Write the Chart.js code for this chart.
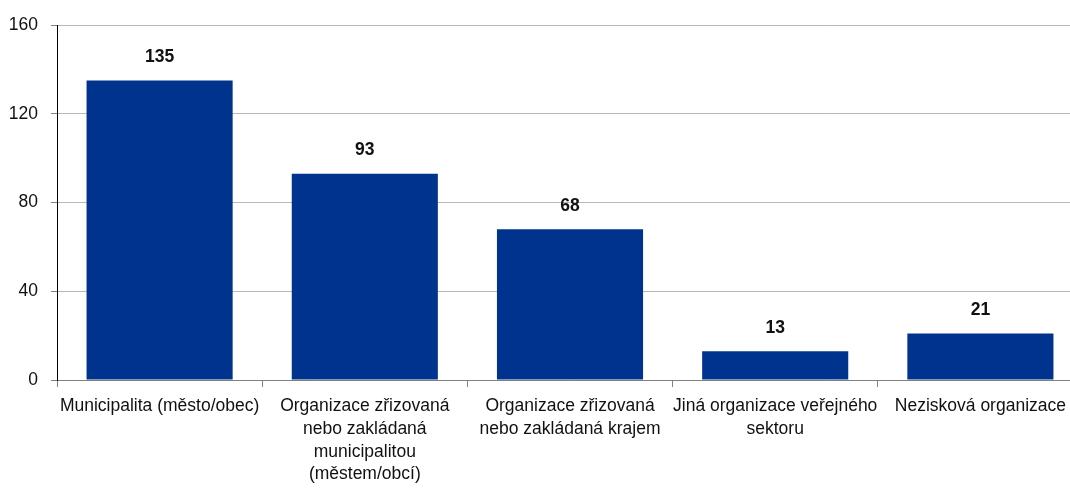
<!DOCTYPE html>
<html>
<head>
<meta charset="utf-8">
<script src="https://cdn.jsdelivr.net/npm/chart.js@4"></script>
<style>
    html, body { margin: 0; padding: 0; background: #fff; overflow: hidden; }
    #wrap { width: 1083px; height: 489px; }
</style>
</head>
<body>
<div id="wrap"><canvas id="barChart"></canvas></div>
<script>
// Categories and values
const categories = [
    ["Municipalita (město/obec)"],
    ["Organizace zřizovaná", "nebo zakládaná", "municipalitou", "(městem/obcí)"],
    ["Organizace zřizovaná", "nebo zakládaná krajem"],
    ["Jiná organizace veřejného", "sektoru"],
    ["Nezisková organizace"],
];
const counts = [135, 93, 68, 13, 21];
const yTicks = [0, 40, 80, 120, 160];

const FONT = "'Liberation Sans', Arial, sans-serif";

// Draw the numbers above each bar
const valueLabels = {
    id: "valueLabels",
    afterDatasetsDraw(chart) {
        const ctx = chart.ctx;
        const meta = chart.getDatasetMeta(0);
        ctx.save();
        ctx.font = "bold 17.5px " + FONT;
        ctx.fillStyle = "#111";
        ctx.textAlign = "center";
        ctx.textBaseline = "middle";
        meta.data.forEach((bar, i) => {
            ctx.fillText(String(counts[i]), bar.x, bar.y - 23);
        });
        ctx.restore();
    },
};

const ctx = document.getElementById("barChart").getContext("2d");
new Chart(ctx, {
    type: "bar",
    data: {
        labels: categories,
        datasets: [
            {
                data: counts,
                backgroundColor: "#00338D",
                categoryPercentage: 1,
                barPercentage: 0.712,
            },
        ],
    },
    options: {
        responsive: true,
        maintainAspectRatio: false,
        animation: false,
        layout: { padding: { top: 25, left: 0, right: 0, bottom: 0 } },
        plugins: {
            legend: { display: false },
            tooltip: { enabled: false },
        },
        scales: {
            x: {
                grid: {
                    offset: true,
                    drawOnChartArea: false,
                    drawTicks: true,
                    tickLength: 7,
                    tickColor: "#808080",
                },
                border: { color: "#808080", width: 1 },
                ticks: {
                    color: "#111",
                    font: { family: FONT, size: 17.5, lineHeight: 1.3 },
                    padding: 8,
                    maxRotation: 0,
                    autoSkip: false,
                },
                afterFit(scale) { scale.height = 109; },
            },
            y: {
                min: 0,
                max: 160,
                afterBuildTicks(scale) { scale.ticks = yTicks.map(v => ({ value: v })); },
                grid: {
                    color: "#b8b8b8",
                    tickColor: "#808080",
                    tickLength: 6,
                    lineWidth: 1,
                },
                border: { color: "#000", width: 1 },
                ticks: {
                    color: "#111",
                    font: { family: FONT, size: 17.5 },
                    padding: 13,
                },
                afterFit(scale) { scale.width = 57; },
            },
        },
    },
    plugins: [valueLabels],
});
</script>
</body>
</html>
